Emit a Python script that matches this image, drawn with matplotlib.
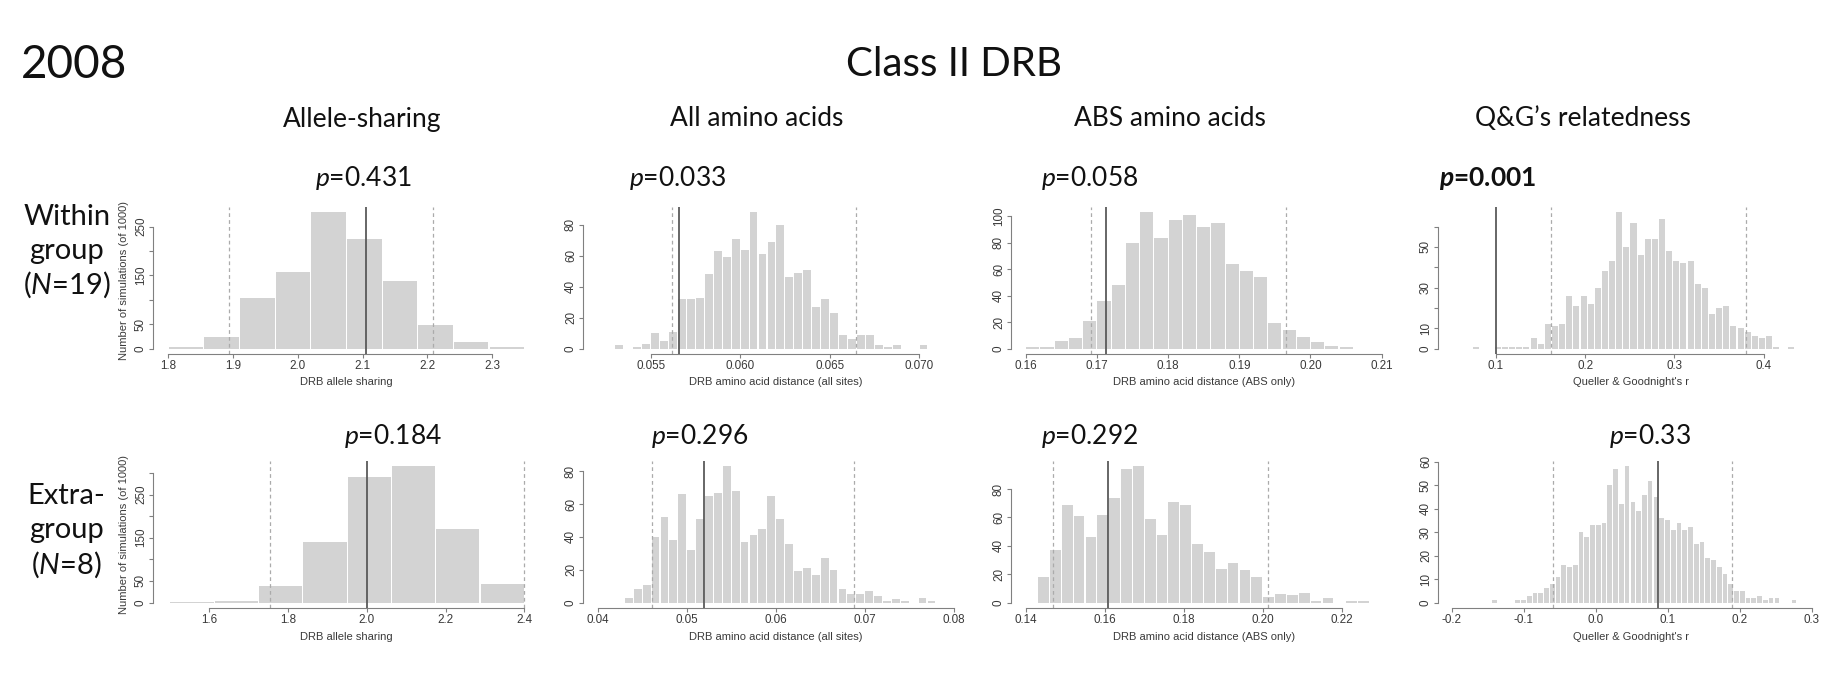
import matplotlib
matplotlib.use("Agg")
import matplotlib.pyplot as plt
import numpy as np

plt.rcParams['font.family'] = ['Lato', 'DejaVu Sans']
plt.rcParams['mathtext.fontset'] = 'custom'
plt.rcParams['mathtext.rm'] = 'Lato'
plt.rcParams['mathtext.it'] = 'Lato:italic'
plt.rcParams['mathtext.bf'] = 'Lato:bold'
plt.rcParams['mathtext.bfit'] = 'Lato:italic:bold'

# ------------------------------------------------------------------ data
year_label = "2008"
title = "Class II DRB"
metric_names = ["Allele-sharing", "All amino acids", "ABS amino acids", "Q&G\u2019s relatedness"]
row_labels = [["Within", "group", "($\\it{N}$=19)"],
              ["Extra-", "group", "($\\it{N}$=8)"]]
x_titles = ["DRB allele sharing", "DRB amino acid distance (all sites)",
            "DRB amino acid distance (ABS only)", "Queller & Goodnight's r"]
y_title = "Number of simulations (of 1000)"
p_within = ["0.431", "0.033", "0.058", "0.001"]
p_extra = ["0.184", "0.296", "0.292", "0.33"]
p_bold = [[False, False, False, True], [False, False, False, False]]

# histogram bins: first edge, bin width, counts
w_allele_start, w_allele_width = 1.80, 0.055
w_allele_counts = [3, 23, 104, 157, 279, 225, 139, 49, 14, 3]
w_allele_obs, w_allele_ci = 2.105, (1.894, 2.209)

w_all_start, w_all_width = 0.053, 0.0005
w_all_counts = [2, 0, 1, 3, 10, 5, 11, 32, 32, 33, 48, 63, 59, 71, 64, 88, 61, 69, 80,
                46, 49, 51, 27, 32, 23, 9, 6, 9, 9, 2, 1, 2, 0, 0, 2]
w_all_obs, w_all_ci = 0.05658, (0.05617, 0.06648)

w_abs_start, w_abs_width = 0.160, 0.002
w_abs_counts = [1, 1, 6, 8, 21, 36, 48, 80, 103, 84, 97, 101, 92, 95, 64, 59, 54, 19,
                14, 9, 5, 2, 1]
w_abs_obs, w_abs_ci = 0.17133, (0.16913, 0.19656)

w_qg_start, w_qg_width = 0.0741, 0.008
w_qg_counts = [1, 0, 0, 1, 1, 1, 1, 1, 5, 2, 12, 11, 12, 26, 21, 26, 22, 30, 38, 43, 67,
               50, 62, 46, 54, 54, 64, 48, 43, 42, 43, 32, 30, 17, 20, 21, 11, 10, 8,
               6, 5, 6, 1, 0, 1]
w_qg_obs, w_qg_ci = 0.1003, (0.1613, 0.3797)

e_allele_start, e_allele_width = 1.50, 0.1125
e_allele_counts = [1, 3, 38, 140, 290, 315, 170, 42]
e_allele_obs, e_allele_ci = 2.0, (1.754, 2.398)

e_all_start, e_all_width = 0.043, 0.001
e_all_counts = [3, 8, 11, 40, 52, 38, 66, 32, 51, 65, 67, 83, 68, 37, 41, 45, 65, 51, 36,
                19, 21, 17, 27, 20, 8, 5, 5, 7, 4, 1, 2, 1, 0, 3, 1]
e_all_obs, e_all_ci = 0.05195, (0.0461, 0.06876)

e_abs_start, e_abs_width = 0.143, 0.003
e_abs_counts = [18, 37, 69, 61, 46, 62, 74, 94, 96, 59, 48, 71, 69, 41, 36, 24, 28, 23,
                18, 4, 6, 5, 7, 1, 3, 0, 1, 1]
e_abs_obs, e_abs_ci = 0.16076, (0.14684, 0.20135)

e_qg_start, e_qg_width = -0.1444, 0.008
e_qg_counts = [1, 0, 0, 0, 1, 1, 3, 4, 4, 6, 8, 11, 16, 15, 16, 30, 28, 33, 33, 34, 50,
               57, 42, 58, 43, 39, 46, 52, 45, 36, 35, 31, 34, 31, 32, 25, 26, 19, 18,
               15, 12, 8, 5, 5, 2, 2, 3, 1, 2, 2, 0, 0, 1]
e_qg_obs, e_qg_ci = 0.0861, (-0.0597, 0.1898)

# axis ticks / labels
x_ticks = [
    (np.arange(1.8, 2.31, 0.1), ["1.8", "1.9", "2.0", "2.1", "2.2", "2.3"]),
    (np.arange(0.055, 0.0701, 0.005), ["0.055", "0.060", "0.065", "0.070"]),
    (np.arange(0.16, 0.2101, 0.01), ["0.16", "0.17", "0.18", "0.19", "0.20", "0.21"]),
    (np.arange(0.1, 0.401, 0.1), ["0.1", "0.2", "0.3", "0.4"]),
    (np.arange(1.6, 2.41, 0.2), ["1.6", "1.8", "2.0", "2.2", "2.4"]),
    (np.arange(0.04, 0.0801, 0.01), ["0.04", "0.05", "0.06", "0.07", "0.08"]),
    (np.arange(0.14, 0.2201, 0.02), ["0.14", "0.16", "0.18", "0.20", "0.22"]),
    (np.arange(-0.2, 0.301, 0.1), ["-0.2", "-0.1", "0.0", "0.1", "0.2", "0.3"]),
]
y_ticks = [
    ([0, 50, 100, 150, 200, 250], ["0", "50", "", "150", "", "250"]),
    ([0, 20, 40, 60, 80], ["0", "20", "40", "60", "80"]),
    ([0, 20, 40, 60, 80, 100], ["0", "20", "40", "60", "80", "100"]),
    ([0, 10, 20, 30, 40, 50, 60], ["0", "10", "", "30", "", "50", ""]),
    ([0, 50, 100, 150, 200, 250, 300], ["0", "50", "", "150", "", "250", ""]),
    ([0, 20, 40, 60, 80], ["0", "20", "40", "60", "80"]),
    ([0, 20, 40, 60, 80], ["0", "20", "40", "60", "80"]),
    ([0, 10, 20, 30, 40, 50, 60], ["0", "10", "20", "30", "40", "50", "60"]),
]
x_limits = [(1.7764, 2.3721), (0.051216, 0.072793), (0.157935, 0.212149), (0.035, 0.46759),
            (1.45702, 2.43733), (0.038348, 0.08172), (0.136278, 0.2340), (-0.21903, 0.31708)]

hists = [
    (w_allele_start, w_allele_width, w_allele_counts, w_allele_obs, w_allele_ci),
    (w_all_start, w_all_width, w_all_counts, w_all_obs, w_all_ci),
    (w_abs_start, w_abs_width, w_abs_counts, w_abs_obs, w_abs_ci),
    (w_qg_start, w_qg_width, w_qg_counts, w_qg_obs, w_qg_ci),
    (e_allele_start, e_allele_width, e_allele_counts, e_allele_obs, e_allele_ci),
    (e_all_start, e_all_width, e_all_counts, e_all_obs, e_all_ci),
    (e_abs_start, e_abs_width, e_abs_counts, e_abs_obs, e_abs_ci),
    (e_qg_start, e_qg_width, e_qg_counts, e_qg_obs, e_qg_ci),
]

# ------------------------------------------------------------------ layout
FW, FH, DPI = 1832, 686, 100
fig = plt.figure(figsize=(FW / DPI, FH / DPI), dpi=DPI)
fig.patch.set_facecolor("white")

col_left = [153, 583, 1011, 1438]
row_top = [207, 461]
AW, AH = 386, 147

def fx(px):
    return px / FW

def fy(py):
    return 1 - py / FH

BAR = "#d3d3d3"
AXC = "#808080"
TXT = "#3a3a3a"
AXFONT = "Liberation Sans"

for i, (start, bw, counts, obs, ci) in enumerate(hists):
    r, c = divmod(i, 4)
    L, T = col_left[c], row_top[r]
    ax = fig.add_axes([fx(L), fy(T + AH), AW / FW, AH / FH])
    counts = np.asarray(counts, dtype=float)
    edges = start + bw * np.arange(len(counts) + 1)
    x0, x1 = x_limits[i]
    gap = 1.1 * (x1 - x0) / AW
    ax.bar(edges[:-1] + gap / 2, counts, width=bw - gap, align="edge",
           color=BAR, linewidth=0, zorder=1)
    ymax = counts.max()
    ax.set_xlim(x0, x1)
    ax.set_ylim(-0.04 * ymax, 1.04 * ymax)
    ax.axvline(ci[0], color="#ababab", lw=0.9, dashes=(3, 2.5), zorder=2)
    ax.axvline(ci[1], color="#ababab", lw=0.9, dashes=(3, 2.5), zorder=2)
    ax.axvline(obs, color="#5a5a5a", lw=1.3, zorder=3)

    xt, xl = x_ticks[i]
    yt, yl = y_ticks[i]
    ax.set_xticks(xt)
    ax.set_xticklabels(xl, fontsize=8.4, color=TXT, fontfamily=AXFONT)
    ax.set_yticks(yt)
    ax.set_yticklabels(yl, fontsize=8.4, color=TXT, fontfamily=AXFONT,
                       rotation=90, va="center")
    for s in ("top", "right"):
        ax.spines[s].set_visible(False)
    for s in ("left", "bottom"):
        ax.spines[s].set_color(AXC)
        ax.spines[s].set_linewidth(0.8)
    ax.spines["left"].set_bounds(yt[0], yt[-1])
    ax.spines["bottom"].set_bounds(xt[0], xt[-1])
    ax.tick_params(axis="both", length=3.2, width=0.8, color=AXC, pad=1.2)
    ax.patch.set_alpha(0)

    fig.text(fx(L + AW / 2), fy(T + AH + 28.5), x_titles[c], fontsize=8.0,
             color=TXT, fontfamily=AXFONT, ha="center", va="center")
    if c == 0:
        fig.text(fx(L - 29), fy(T + AH / 2), y_title, fontsize=8.0, color=TXT,
                 fontfamily=AXFONT, rotation=90, ha="center", va="center")

# headings
fig.text(fx(21), fy(65), year_label, fontsize=33, ha="left", va="center", color="#111111")
fig.text(fx(954), fy(65), title, fontsize=29, ha="center", va="center", color="#111111")
for c, x in enumerate([362, 757, 1170, 1583]):
    fig.text(fx(x), fy(119), metric_names[c], fontsize=19, ha="center", va="center",
             color="#111111")

# p-values
p_x = [[363, 678, 1090, 1488], [393, 700, 1090, 1650]]
p_y = [178, 436]
for r, plist in enumerate([p_within, p_extra]):
    for c, pv in enumerate(plist):
        if p_bold[r][c]:
            s = "$\\bfit{p}$=" + pv
            fw = "bold"
        else:
            s = "$\\it{p}$=" + pv
            fw = "normal"
        fig.text(fx(p_x[r][c]), fy(p_y[r]), s, fontsize=19, fontweight=fw,
                 ha="center", va="center", color="#111111")

# row labels
row_y = [[217, 251, 285], [496, 530, 565]]
row_x = [67, 66]
for r in range(2):
    for k, line in enumerate(row_labels[r]):
        fig.text(fx(row_x[r]), fy(row_y[r][k]), line, fontsize=21, ha="center",
                 va="center", color="#111111")

fig.savefig("out.png", dpi=DPI, facecolor="white")
